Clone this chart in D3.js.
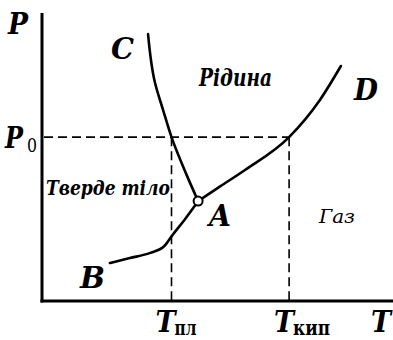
<!DOCTYPE html>
<html>
<head>
<meta charset="utf-8">
<script src="https://cdn.jsdelivr.net/npm/d3@7"></script>
<style>
  html, body { margin: 0; padding: 0; background: #fff; }
  svg { display: block; }
</style>
</head>
<body>
<svg id="chart" width="393" height="340"></svg>
<script>
// Phase diagram: temperature T (horizontal) vs pressure P (vertical), arbitrary units 0..100
const T_MELT = 37.0;     // melting temperature at P0
const T_BOIL = 70.6;     // boiling temperature at P0
const P_ZERO = 56.9;     // reference pressure P0
const triplePoint = [44.6, 34.7];

// Melting curve, from C down to the triple point A
const meltingCurve = [[30.3, 92.7], [32.3, 75.7], [34.6, 66.3], [37.0, 56.9], [41.1, 44.4], [44.6, 34.7]];
// Sublimation curve, from B up to the triple point A
const sublimationCurve = [[19.4, 13.2], [25.1, 14.9], [30.9, 16.7], [34.9, 19.0], [37.1, 22.6], [40.9, 28.5], [44.6, 34.7]];
// Vaporization curve, from the triple point A up to D
const vaporizationCurve = [[44.6, 34.7], [50.9, 39.8], [58.0, 45.5], [70.6, 56.9], [79.4, 69.8], [85.4, 81.6]];

const FONT = "'DejaVu Serif', serif";

const svg = d3.select("#chart").attr("font-family", FONT);
const x = d3.scaleLinear().domain([0, 100]).range([42, 392]);
const y = d3.scaleLinear().domain([0, 100]).range([301, 13]);

// Axes: plain heavy lines, no ticks
svg.append("g")
  .attr("transform", `translate(0,${y(0)})`)
  .call(d3.axisBottom(x).tickValues([]).tickSizeOuter(0))
  .call(g => g.select(".domain").attr("stroke-width", 3).attr("d", `M${x(0) - 1.5},0H393`));
svg.append("g")
  .attr("transform", `translate(${x(0)},0)`)
  .call(d3.axisLeft(y).tickValues([]).tickSizeOuter(0))
  .call(g => g.select(".domain").attr("stroke-width", 3).attr("d", `M0,${y(0) + 1.5}V${y(100)}`));

// Dashed guides at P0, T_пл and T_кип
function guide(x1, y1, x2, y2) {
  svg.append("line").attr("x1", x1).attr("y1", y1).attr("x2", x2).attr("y2", y2)
    .attr("stroke", "#000").attr("stroke-width", 1.6)
    .attr("stroke-dasharray", "9,5").attr("fill", "none");
}
guide(x(0) + 2, y(P_ZERO), x(T_BOIL), y(P_ZERO));
guide(x(T_MELT), y(P_ZERO), x(T_MELT), y(0));
guide(x(T_BOIL), y(P_ZERO), x(T_BOIL), y(0));

// Phase boundaries
const lineX = d3.line().x(d => x(d[0])).y(d => y(d[1])).curve(d3.curveMonotoneX);
const lineY = d3.line().x(d => x(d[0])).y(d => y(d[1])).curve(d3.curveMonotoneY);
[[meltingCurve, lineY], [sublimationCurve, lineX], [vaporizationCurve, lineX]].forEach(([c, gen]) => {
  svg.append("path").attr("d", gen(c))
    .attr("fill", "none").attr("stroke", "#000").attr("stroke-width", 2.6)
    .attr("stroke-linecap", "round");
});

// Triple point
svg.append("circle")
  .attr("cx", x(triplePoint[0])).attr("cy", y(triplePoint[1])).attr("r", 4.5)
  .attr("fill", "#fff").attr("stroke", "#000").attr("stroke-width", 2);

// Labels: serif bold italic, squeezed to a Times-like width
function label(txt, px, py, size, width, opts = {}) {
  const t = svg.append("text").attr("x", px).attr("y", py)
    .attr("font-family", FONT)
    .attr("font-size", size)
    .attr("font-weight", opts.weight || "bold")
    .attr("font-style", opts.style || "italic")
    .attr("fill", "#000")
    .text(txt);
  if (width) t.attr("textLength", width).attr("lengthAdjust", "spacingAndGlyphs");
  return t;
}
label("P", 8, 34, 29, 20);
label("C", 111, 59, 29, 23);
label("D", 354, 100, 29, 24);
label("A", 209, 226, 29, 22);
label("B", 80, 288, 29, 25);
label("Рідина", 199, 86, 24, 73);
label("Тверде тіло", 46, 195, 21, 124);
label("Газ", 319, 223, 18, 36, { weight: "normal" });

// P0 as one text: italic P followed by an upright subscript zero
const p0 = svg.append("text").attr("y", 148)
  .attr("font-family", FONT).attr("fill", "#000");
p0.append("tspan").attr("x", 5)
  .attr("font-size", 29).attr("font-weight", "bold").attr("font-style", "italic")
  .attr("textLength", 18).attr("lengthAdjust", "spacingAndGlyphs")
  .text("P");
p0.append("tspan").attr("x", 27).attr("dy", 4)
  .attr("font-size", 19)
  .attr("textLength", 10).attr("lengthAdjust", "spacingAndGlyphs")
  .text("0");

// Temperature labels with upright bold subscripts
function tLabel(px, sub, subWidth) {
  label("T", px, 332, 29, 20);
  if (sub) {
    svg.append("text").attr("x", px + 19).attr("y", 335)
      .attr("font-family", FONT).attr("font-size", 21).attr("font-weight", "bold")
      .attr("fill", "#000")
      .attr("textLength", subWidth).attr("lengthAdjust", "spacingAndGlyphs")
      .text(sub);
  }
}
tLabel(x(T_MELT) - 16, "пл", 22);
tLabel(x(T_BOIL) - 15, "кип", 37);
tLabel(371, null);
</script>
</body>
</html>
